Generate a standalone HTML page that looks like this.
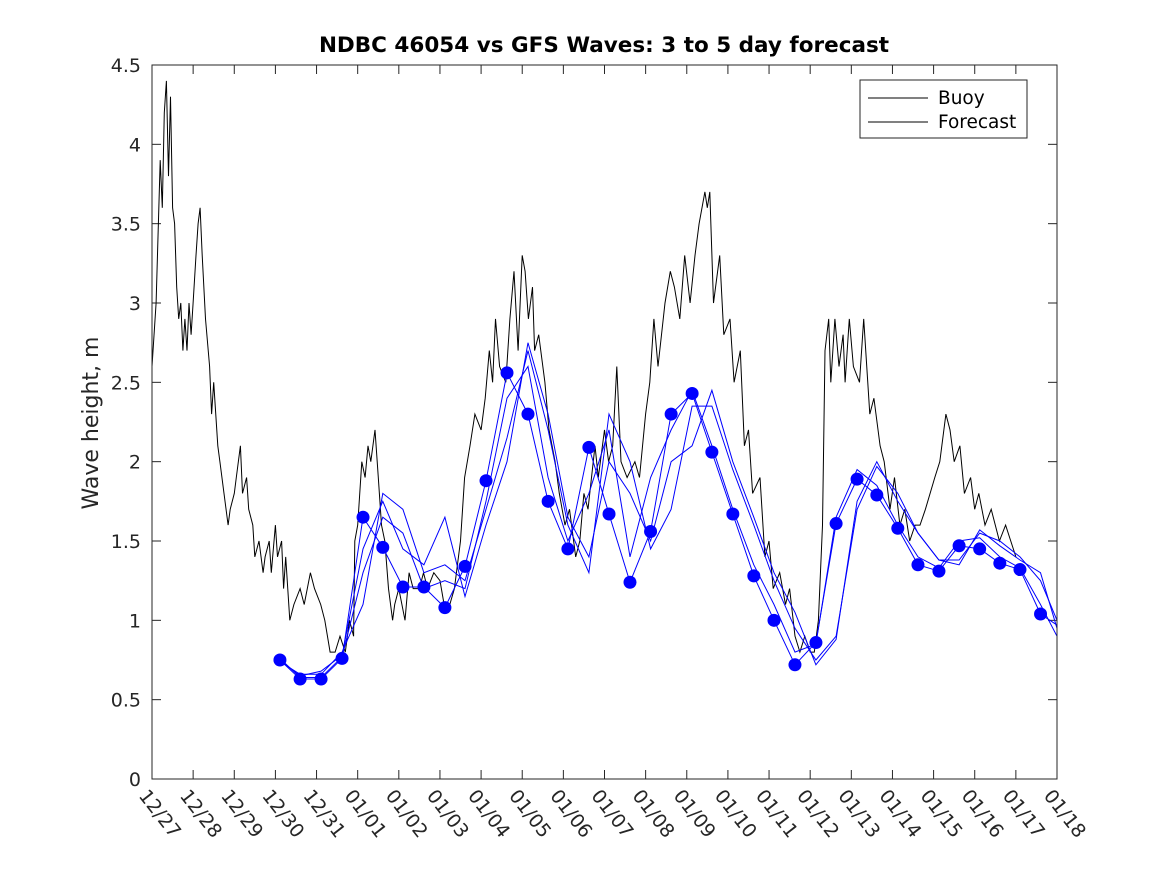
<!DOCTYPE html>
<html><head><meta charset="utf-8"><style>
body{margin:0;background:#fff;}
svg{display:block;font-family:"DejaVu Sans","Liberation Sans",sans-serif;}
</style></head><body>
<svg id="chart" width="1167" height="875">
<rect width="1167" height="875" fill="#fff"/>
<text x="604" y="52" text-anchor="middle" font-size="21.5" font-weight="bold">NDBC 46054 vs GFS Waves: 3 to 5 day forecast</text>
<text transform="translate(98,423) rotate(-90)" text-anchor="middle" font-size="22" fill="#262626">Wave height, m</text>
<g id="grid"></g>
<g id="series"></g>
<rect x="152" y="65" width="905" height="714" fill="none" stroke="#262626" stroke-width="1"/>
<g>
<rect x="860" y="80" width="167" height="58" fill="#fff" stroke="#262626"/>
<line x1="868" y1="98" x2="928" y2="98" stroke="#000"/>
<text x="938" y="104" font-size="18.5">Buoy</text>
<line x1="868" y1="122" x2="928" y2="122" stroke="#000"/>
<text x="938" y="128" font-size="18.5">Forecast</text>
</g>
</svg>
<script>
const xTickLabels=["12/27","12/28","12/29","12/30","12/31","01/01","01/02","01/03","01/04","01/05","01/06","01/07","01/08","01/09","01/10","01/11","01/12","01/13","01/14","01/15","01/16","01/17","01/18"];
const yTicks=[0,0.5,1,1.5,2,2.5,3,3.5,4,4.5];
const buoyDays=[0,0.1,0.2,0.25,0.3,0.35,0.4,0.45,0.5,0.55,0.6,0.65,0.7,0.75,0.8,0.85,0.9,0.95,1.0,1.07,1.12,1.17,1.22,1.3,1.4,1.45,1.5,1.6,1.65,1.75,1.85,1.9,2.0,2.05,2.15,2.2,2.3,2.35,2.45,2.5,2.6,2.7,2.75,2.85,2.9,3.0,3.05,3.15,3.2,3.25,3.35,3.45,3.6,3.7,3.85,3.95,4.1,4.2,4.33,4.45,4.57,4.7,4.8,4.9,4.93,5.0,5.1,5.18,5.25,5.32,5.42,5.5,5.58,5.66,5.75,5.85,5.9,6.0,6.15,6.25,6.35,6.5,6.6,6.7,6.85,7.0,7.1,7.24,7.35,7.5,7.6,7.73,7.85,8.0,8.1,8.2,8.28,8.35,8.45,8.6,8.7,8.8,8.9,9.0,9.07,9.15,9.25,9.3,9.4,9.55,9.65,9.8,9.9,10.04,10.15,10.3,10.4,10.5,10.6,10.77,10.85,11.0,11.1,11.2,11.3,11.4,11.55,11.74,11.85,12.0,12.1,12.2,12.3,12.47,12.6,12.7,12.83,12.95,13.08,13.2,13.3,13.44,13.5,13.56,13.65,13.8,13.9,14.05,14.15,14.3,14.4,14.5,14.6,14.78,14.9,15.0,15.1,15.26,15.4,15.5,15.63,15.75,15.87,16.0,16.1,16.2,16.3,16.36,16.45,16.5,16.6,16.7,16.8,16.85,16.95,17.05,17.2,17.3,17.45,17.55,17.7,17.8,17.94,18.05,18.18,18.3,18.42,18.55,18.67,18.8,19.03,19.15,19.3,19.4,19.5,19.64,19.75,19.9,20.0,20.1,20.25,20.4,20.5,20.6,20.75,21.0,21.1,21.2,21.3];
const buoyValues=[2.6,3.0,3.9,3.6,4.2,4.4,3.8,4.3,3.6,3.5,3.1,2.9,3.0,2.7,2.9,2.7,3.0,2.8,3.0,3.3,3.5,3.6,3.3,2.9,2.6,2.3,2.5,2.1,2.0,1.8,1.6,1.7,1.8,1.9,2.1,1.8,1.9,1.7,1.6,1.4,1.5,1.3,1.4,1.5,1.3,1.6,1.4,1.5,1.2,1.4,1.0,1.1,1.2,1.1,1.3,1.2,1.1,1.0,0.8,0.8,0.9,0.8,1.0,0.9,1.5,1.6,2.0,1.9,2.1,2.0,2.2,1.9,1.6,1.5,1.2,1.0,1.1,1.2,1.0,1.3,1.2,1.2,1.3,1.2,1.3,1.25,1.1,1.1,1.2,1.5,1.9,2.1,2.3,2.2,2.4,2.7,2.5,2.9,2.6,2.5,2.9,3.2,2.7,3.3,3.2,2.9,3.1,2.7,2.8,2.5,2.2,2.0,1.8,1.6,1.7,1.4,1.5,1.8,1.7,2.1,1.9,2.2,2.0,2.1,2.6,2.0,1.9,2.0,1.9,2.3,2.5,2.9,2.6,3.0,3.2,3.1,2.9,3.3,3.0,3.3,3.5,3.7,3.6,3.7,3.0,3.3,2.8,2.9,2.5,2.7,2.1,2.2,1.8,1.9,1.4,1.5,1.2,1.3,1.1,1.2,0.9,0.8,0.9,0.8,0.8,1.0,1.6,2.7,2.9,2.5,2.9,2.6,2.8,2.5,2.9,2.6,2.5,2.9,2.3,2.4,2.1,2.0,1.7,1.9,1.6,1.7,1.5,1.6,1.6,1.7,1.9,2.0,2.3,2.2,2.0,2.1,1.8,1.9,1.7,1.8,1.6,1.7,1.6,1.5,1.6,1.4];
const dotDays=[3.11,3.6,4.11,4.62,5.13,5.61,6.1,6.61,7.12,7.61,8.12,8.63,9.14,9.63,10.11,10.62,11.11,11.62,12.12,12.62,13.13,13.61,14.12,14.63,15.12,15.63,16.14,16.63,17.14,17.62,18.13,18.62,19.13,19.62,20.12,20.61,21.1,21.6];
const dotValues=[0.75,0.63,0.63,0.76,1.65,1.46,1.21,1.21,1.08,1.34,1.88,2.56,2.30,1.75,1.45,2.09,1.67,1.24,1.56,2.30,2.43,2.06,1.67,1.28,1.00,0.72,0.86,1.61,1.89,1.79,1.58,1.35,1.31,1.47,1.45,1.36,1.32,1.04];
const runB=[0.74,0.66,0.66,0.80,1.10,1.80,1.70,1.30,1.35,1.25,1.70,2.15,2.70,2.20,1.60,1.30,2.30,2.00,1.45,1.70,2.35,2.35,1.95,1.60,1.25,0.95,0.75,0.90,1.70,1.97,1.80,1.55,1.38,1.38,1.55,1.50,1.40,1.25,1.00];
const runC=[0.75,0.65,0.68,0.78,1.45,1.75,1.45,1.35,1.65,1.15,1.60,2.00,2.75,2.30,1.65,1.40,2.00,1.80,1.50,2.00,2.10,2.45,2.00,1.65,1.30,1.05,0.72,0.88,1.75,2.00,1.75,1.55,1.38,1.35,1.57,1.47,1.38,1.30,0.95];
const runD=[0.76,0.64,0.64,0.77,1.30,1.65,1.55,1.20,1.25,1.20,1.75,2.40,2.60,1.90,1.50,1.80,2.20,1.40,1.90,2.20,2.45,2.10,1.70,1.35,1.10,0.80,0.85,1.65,1.95,1.85,1.60,1.40,1.33,1.50,1.52,1.40,1.33,1.10,0.90];
const endDay=22, endValue=0.97;

const X0=152,X1=1057,Y0=779,Y1=65;
const xs=d=>X0+(X1-X0)*d/22;
const ys=v=>Y0-(Y0-Y1)*v/4.5;
const NS="http://www.w3.org/2000/svg";
const grid=document.getElementById('grid'), ser=document.getElementById('series');
function mk(tag,attrs,parent){const e=document.createElementNS(NS,tag);for(const k in attrs)e.setAttribute(k,attrs[k]);parent.appendChild(e);return e;}

yTicks.forEach((v,i)=>{
  const y=ys(v);
  const t=mk('line',{x1:X0,x2:X0+9,y1:y,y2:y,stroke:'#262626'},grid);
  
  
  const t2=mk('line',{x1:X1-9,x2:X1,y1:y,y2:y,stroke:'#262626'},grid);
  
  
  const tx=mk('text',{x:X0-11,y:y+7,'text-anchor':'end','font-size':'19',fill:'#262626'},grid);
  tx.textContent=String(v);
  
  
});
xTickLabels.forEach((lab,i)=>{
  const x=xs(i);
  const t=mk('line',{x1:x,x2:x,y1:Y0,y2:Y0-9,stroke:'#262626'},grid);
  
  
  const t2=mk('line',{x1:x,x2:x,y1:Y1,y2:Y1+9,stroke:'#262626'},grid);
  
  
  const tx=mk('text',{transform:`translate(${x-14},${Y0+17}) rotate(52)`,'font-size':'19',fill:'#262626'},grid);
  tx.textContent=lab;
  
  
});

function pathFrom(days,vals){return days.map((d,i)=>(i?'L':'M')+xs(d).toFixed(1)+','+ys(vals[i]).toFixed(1)).join(' ');}
const bp=mk('path',{d:pathFrom(buoyDays,buoyValues),fill:'none',stroke:'#000','stroke-width':1},ser);


const fDays=dotDays.concat([endDay]);
[dotValues.concat([endValue]),runB,runC,runD].forEach(r=>{
  const p=mk('path',{d:pathFrom(fDays,r),fill:'none',stroke:'#0000ff','stroke-width':1},ser);
  
  
});
dotDays.forEach((d,i)=>{
  const c=mk('circle',{cx:xs(d),cy:ys(dotValues[i]),r:6.5,fill:'#0000ff'},ser);
  
  
});
</script>
</body></html>
